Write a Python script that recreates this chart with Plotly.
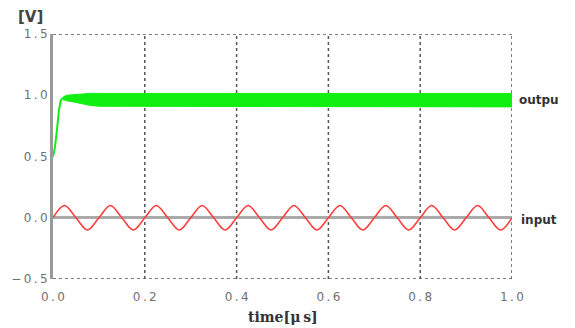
import plotly.graph_objects as go

# ---- data ----
# input: sine-like wave, points at quarter periods (period 0.1 us, amplitude 0.1 V)
input_t = [i * 0.025 for i in range(41)]
input_v = [0.0, 0.1, 0.0, -0.1] * 10 + [0.0]

# output: initial rise
rise_t = [0.0, 0.004, 0.009, 0.013, 0.017, 0.022]
rise_v = [0.50, 0.57, 0.73, 0.88, 0.96, 0.98]

# output: band of fast oscillation (upper and lower envelopes)
band_t = [0.022, 0.03, 0.045, 0.06, 0.08, 0.10, 0.12, 0.20, 0.50, 1.0]
band_hi = [0.985, 1.0, 1.005, 1.01, 1.015, 1.015, 1.015, 1.015, 1.015, 1.015]
band_lo = [0.965, 0.955, 0.945, 0.93, 0.918, 0.91, 0.906, 0.905, 0.905, 0.905]

x_ticks = [0.0, 0.2, 0.4, 0.6, 0.8, 1.0]
x_tick_text = ["0\u2009.\u20090", "0\u2009.\u20092", "0\u2009.\u20094",
               "0\u2009.\u20096", "0\u2009.\u20098", "1\u2009.\u20090"]
y_ticks = [-0.5, 0.0, 0.5, 1.0, 1.5]
y_tick_text = ["\u2212\u20090\u2009.\u20095", "0\u2009.\u20090", "0\u2009.\u20095",
               "1\u2009.\u20090", "1\u2009.\u20095"]

GREEN = "#11ee11"
RED = "#ff3a3a"
GRID = "#555555"

fig = go.Figure()

fig.add_trace(go.Scatter(
    x=band_t + band_t[::-1], y=band_hi + band_lo[::-1],
    mode="lines", fill="toself", fillcolor=GREEN,
    line=dict(color=GREEN, width=1), hoverinfo="skip", showlegend=False))
fig.add_trace(go.Scatter(
    x=rise_t, y=rise_v, mode="lines",
    line=dict(color=GREEN, width=2), showlegend=False))
fig.add_trace(go.Scatter(
    x=input_t, y=input_v, mode="lines",
    line=dict(color=RED, width=1.5, shape="spline", smoothing=1.0),
    showlegend=False))

# dotted grid lines
shapes = []
for xv in x_ticks[1:]:
    shapes.append(dict(type="line", xref="x", yref="y", x0=xv, x1=xv,
                       y0=y_ticks[0], y1=y_ticks[-1], layer="below",
                       line=dict(color=GRID, width=1.5, dash="dot")))
for yv in (y_ticks[0], y_ticks[-1]):
    shapes.append(dict(type="line", xref="x", yref="y", x0=0, x1=1,
                       y0=yv, y1=yv, layer="below",
                       line=dict(color=GRID, width=1.5, dash="dot")))

tickfont = dict(family="DejaVu Sans", size=12, color="#707070")

fig.update_layout(
    width=575, height=328,
    margin=dict(l=53, r=63, t=34, b=49),
    paper_bgcolor="white", plot_bgcolor="white",
    shapes=shapes,
    xaxis=dict(range=[0, 1], tickvals=x_ticks, ticktext=x_tick_text,
               showgrid=False, zeroline=False, showline=False,
               ticks="outside", ticklen=7, tickcolor="rgba(0,0,0,0)",
               tickfont=tickfont),
    yaxis=dict(range=[-0.5, 1.5], tickvals=y_ticks, ticktext=y_tick_text,
               showgrid=False, zeroline=True, zerolinecolor="#aaaaaa",
               zerolinewidth=3, showline=True, linecolor="#999999",
               linewidth=3, ticks="", tickfont=tickfont),
    annotations=[
        dict(text="<b>[V]</b>", xref="paper", yref="paper", x=-0.05, y=1.07,
             xanchor="center", yanchor="middle", showarrow=False,
             font=dict(family="DejaVu Sans", size=15, color="#444444")),
        dict(text="<b>outpu</b>", xref="paper", yref="y", x=1.011, y=0.96,
             xanchor="left", yanchor="middle", showarrow=False,
             font=dict(family="DejaVu Sans", size=12, color="#333333")),
        dict(text="<b>input</b>", xref="paper", yref="y", x=1.015, y=-0.02,
             xanchor="left", yanchor="middle", showarrow=False,
             font=dict(family="DejaVu Sans", size=12, color="#333333")),
        dict(text="<b>time[μ\u2009s]</b>", xref="paper", yref="paper", x=0.5,
             y=-0.155, xanchor="center", yanchor="middle", showarrow=False,
             font=dict(family="DejaVu Serif", size=14, color="#333333")),
    ],
)

fig.write_html("out.html")
